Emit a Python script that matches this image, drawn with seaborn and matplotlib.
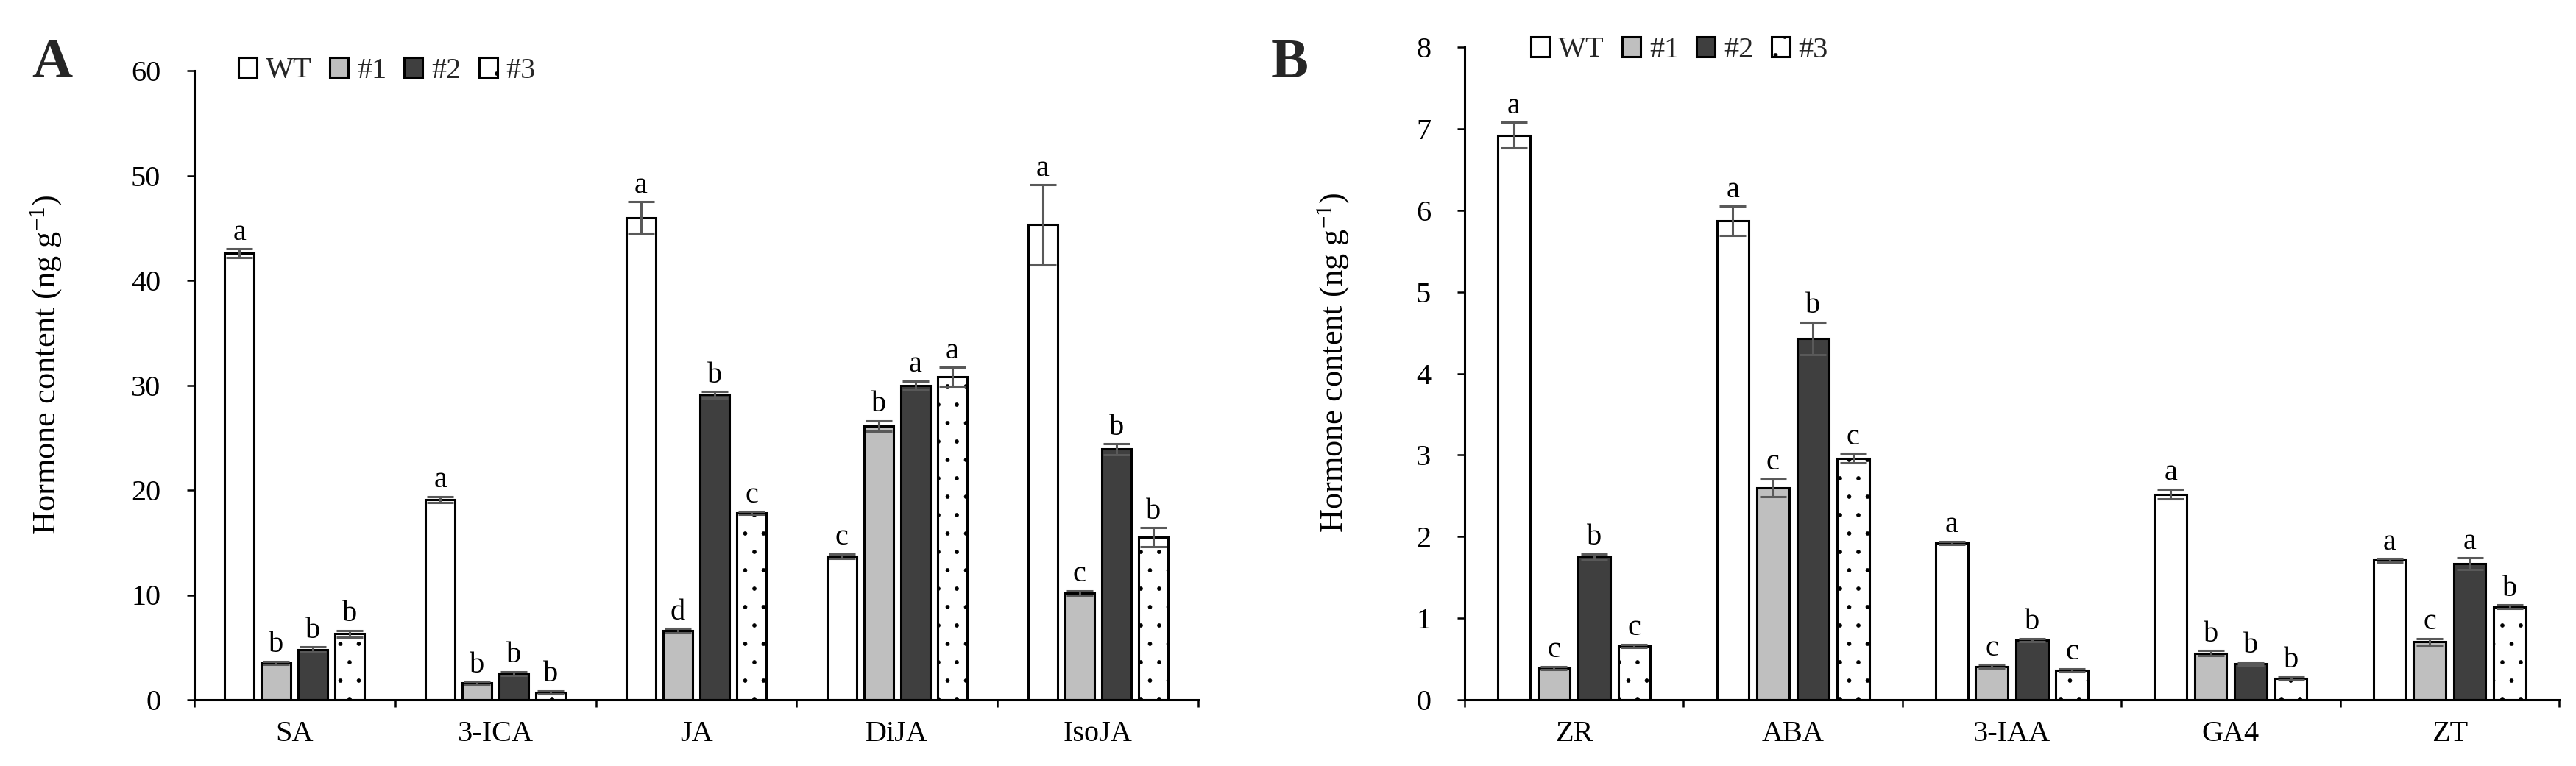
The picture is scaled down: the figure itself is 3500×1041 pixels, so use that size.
import numpy as np
import pandas as pd
import matplotlib
matplotlib.use("Agg")
import matplotlib.pyplot as plt
import seaborn as sns

# ---------------- data ----------------
lines = ["WT", "#1", "#2", "#3"]

a_cats = ["SA", "3-ICA", "JA", "DiJA", "IsoJA"]
a_wt = [42.6, 19.1, 46.0, 13.7, 45.3]
a_l1 = [3.5, 1.6, 6.6, 26.1, 10.2]
a_l2 = [4.8, 2.5, 29.1, 30.0, 23.9]
a_l3 = [6.3, 0.7, 17.8, 30.8, 15.5]
a_wt_err = [0.4, 0.3, 1.5, 0.2, 3.8]
a_l1_err = [0.15, 0.15, 0.2, 0.5, 0.2]
a_l2_err = [0.25, 0.2, 0.3, 0.4, 0.5]
a_l3_err = [0.3, 0.15, 0.15, 0.9, 0.9]
a_wt_let = ["a", "a", "a", "c", "a"]
a_l1_let = ["b", "b", "d", "b", "c"]
a_l2_let = ["b", "b", "b", "a", "b"]
a_l3_let = ["b", "b", "c", "a", "b"]

b_cats = ["ZR", "ABA", "3-IAA", "GA4", "ZT"]
b_wt = [6.92, 5.87, 1.92, 2.52, 1.71]
b_l1 = [0.39, 2.60, 0.41, 0.57, 0.71]
b_l2 = [1.75, 4.43, 0.73, 0.44, 1.67]
b_l3 = [0.66, 2.96, 0.36, 0.26, 1.14]
b_wt_err = [0.16, 0.18, 0.02, 0.06, 0.02]
b_l1_err = [0.02, 0.11, 0.02, 0.03, 0.04]
b_l2_err = [0.04, 0.20, 0.02, 0.02, 0.07]
b_l3_err = [0.02, 0.06, 0.02, 0.02, 0.02]
b_wt_let = ["a", "a", "a", "a", "a"]
b_l1_let = ["c", "c", "c", "b", "c"]
b_l2_let = ["b", "b", "b", "b", "a"]
b_l3_let = ["c", "c", "c", "b", "b"]

colors = ["#ffffff", "#bfbfbf", "#3f3f3f", "#ffffff"]
ylabel = r"Hormone content (ng g$^{-1}$)"

# ---------------- style ----------------
DPI = 150
S = 100 / DPI  # point scale so sizes match a 100-dpi layout

sns.set_theme(style="ticks")
plt.rcParams["font.family"] = ["Liberation Serif", "DejaVu Serif"]
plt.rcParams["mathtext.fontset"] = "custom"
plt.rcParams["mathtext.rm"] = "Liberation Serif"
plt.rcParams["mathtext.default"] = "regular"
plt.rcParams["hatch.color"] = "black"
plt.rcParams["hatch.linewidth"] = 0.3

FS = 29 * S
W, H = 3500, 1041
fig = plt.figure(figsize=(W / DPI, H / DPI), dpi=DPI)
fig.patch.set_facecolor("white")

axA = fig.add_axes([264 / W, 1 - 951 / H, (1628 - 264) / W, (951 - 96) / H])
axB = fig.add_axes([1990 / W, 1 - 951 / H, (3477 - 1990) / W, (951 - 64) / H])


def panel(ax, cats, vals, errs, lets, ymax, ystep, lab_xy, leg_xy):
    rows = []
    for li, line in enumerate(lines):
        for ci, c in enumerate(cats):
            rows.append(dict(hormone=c, line=line, value=vals[li][ci]))
    df = pd.DataFrame(rows)
    sns.barplot(data=df, x="hormone", y="value", hue="line", order=cats,
                hue_order=lines, palette=dict(zip(lines, colors)),
                width=0.733, gap=0.2, errorbar=None, edgecolor="black",
                linewidth=2.2 * S, saturation=1, ax=ax, legend=False)
    bars = list(ax.containers)
    for li, cont in enumerate(bars):
        for ci, p in enumerate(cont):
            if li == 3:
                p.set_hatch(".")
            x = p.get_x() + p.get_width() / 2
            h = p.get_height()
            e = errs[li][ci]
            ax.errorbar(x, h, yerr=e, color="#595959", capsize=13 * S,
                        elinewidth=2.2 * S, capthick=2.2 * S, zorder=4)
            ax.annotate(lets[li][ci], (x, h + e), xytext=(0, 9 * S),
                        textcoords="offset points", ha="center",
                        va="baseline", fontsize=FS, color="black")
    ax.set_xlim(-0.5, len(cats) - 0.5)
    ax.set_ylim(0, ymax)
    ticks = np.arange(0, ymax + ystep / 2, ystep)
    ax.set_yticks(ticks)
    ax.set_yticklabels([f"{int(v)}" for v in ticks])
    ax.set_xticks(range(len(cats)))
    ax.set_xticklabels(cats)
    ax.set_xticks(np.arange(-0.5, len(cats), 1.0), minor=True)
    ax.tick_params(axis="x", which="major", length=0, pad=20 * S,
                   labelsize=FS, colors="black")
    ax.tick_params(axis="x", which="minor", length=7 * S, width=1.8 * S,
                   color="black")
    ax.tick_params(axis="y", which="major", length=7 * S, width=1.8 * S,
                   pad=26 * S, labelsize=FS, colors="black")
    ax.set_xlabel("")
    ax.set_ylabel(ylabel, fontsize=32 * S, color="black")
    ax.yaxis.set_label_coords(*lab_xy)
    sns.despine(ax=ax)
    for s in ["left", "bottom"]:
        ax.spines[s].set_linewidth(2.2 * S)
        ax.spines[s].set_color("black")
    ax.set_facecolor("white")
    ax.legend(bars, lines, loc="center left",
              bbox_to_anchor=leg_xy, bbox_transform=fig.transFigure,
              ncol=4, frameon=False, fontsize=FS, handlelength=0.62,
              handleheight=0.68, handletextpad=0.3, columnspacing=0.6,
              borderpad=0, borderaxespad=0)


panel(axA, a_cats,
      [a_wt, a_l1, a_l2, a_l3],
      [a_wt_err, a_l1_err, a_l2_err, a_l3_err],
      [a_wt_let, a_l1_let, a_l2_let, a_l3_let],
      60, 10, (-0.130, 0.532), (324 / W, 1 - 96 / H))
panel(axB, b_cats,
      [b_wt, b_l1, b_l2, b_l3],
      [b_wt_err, b_l1_err, b_l2_err, b_l3_err],
      [b_wt_let, b_l1_let, b_l2_let, b_l3_let],
      8, 1, (-0.1036, 0.516), (2080 / W, 1 - 68 / H))

fig.text(43 / W, 1 - 105 / H, "A", fontsize=55 * S, fontweight="bold",
         va="baseline", ha="left")
fig.text(1727 / W, 1 - 105 / H, "B", fontsize=55 * S, fontweight="bold",
         va="baseline", ha="left")

fig.savefig("out.png", dpi=DPI, facecolor="white")
